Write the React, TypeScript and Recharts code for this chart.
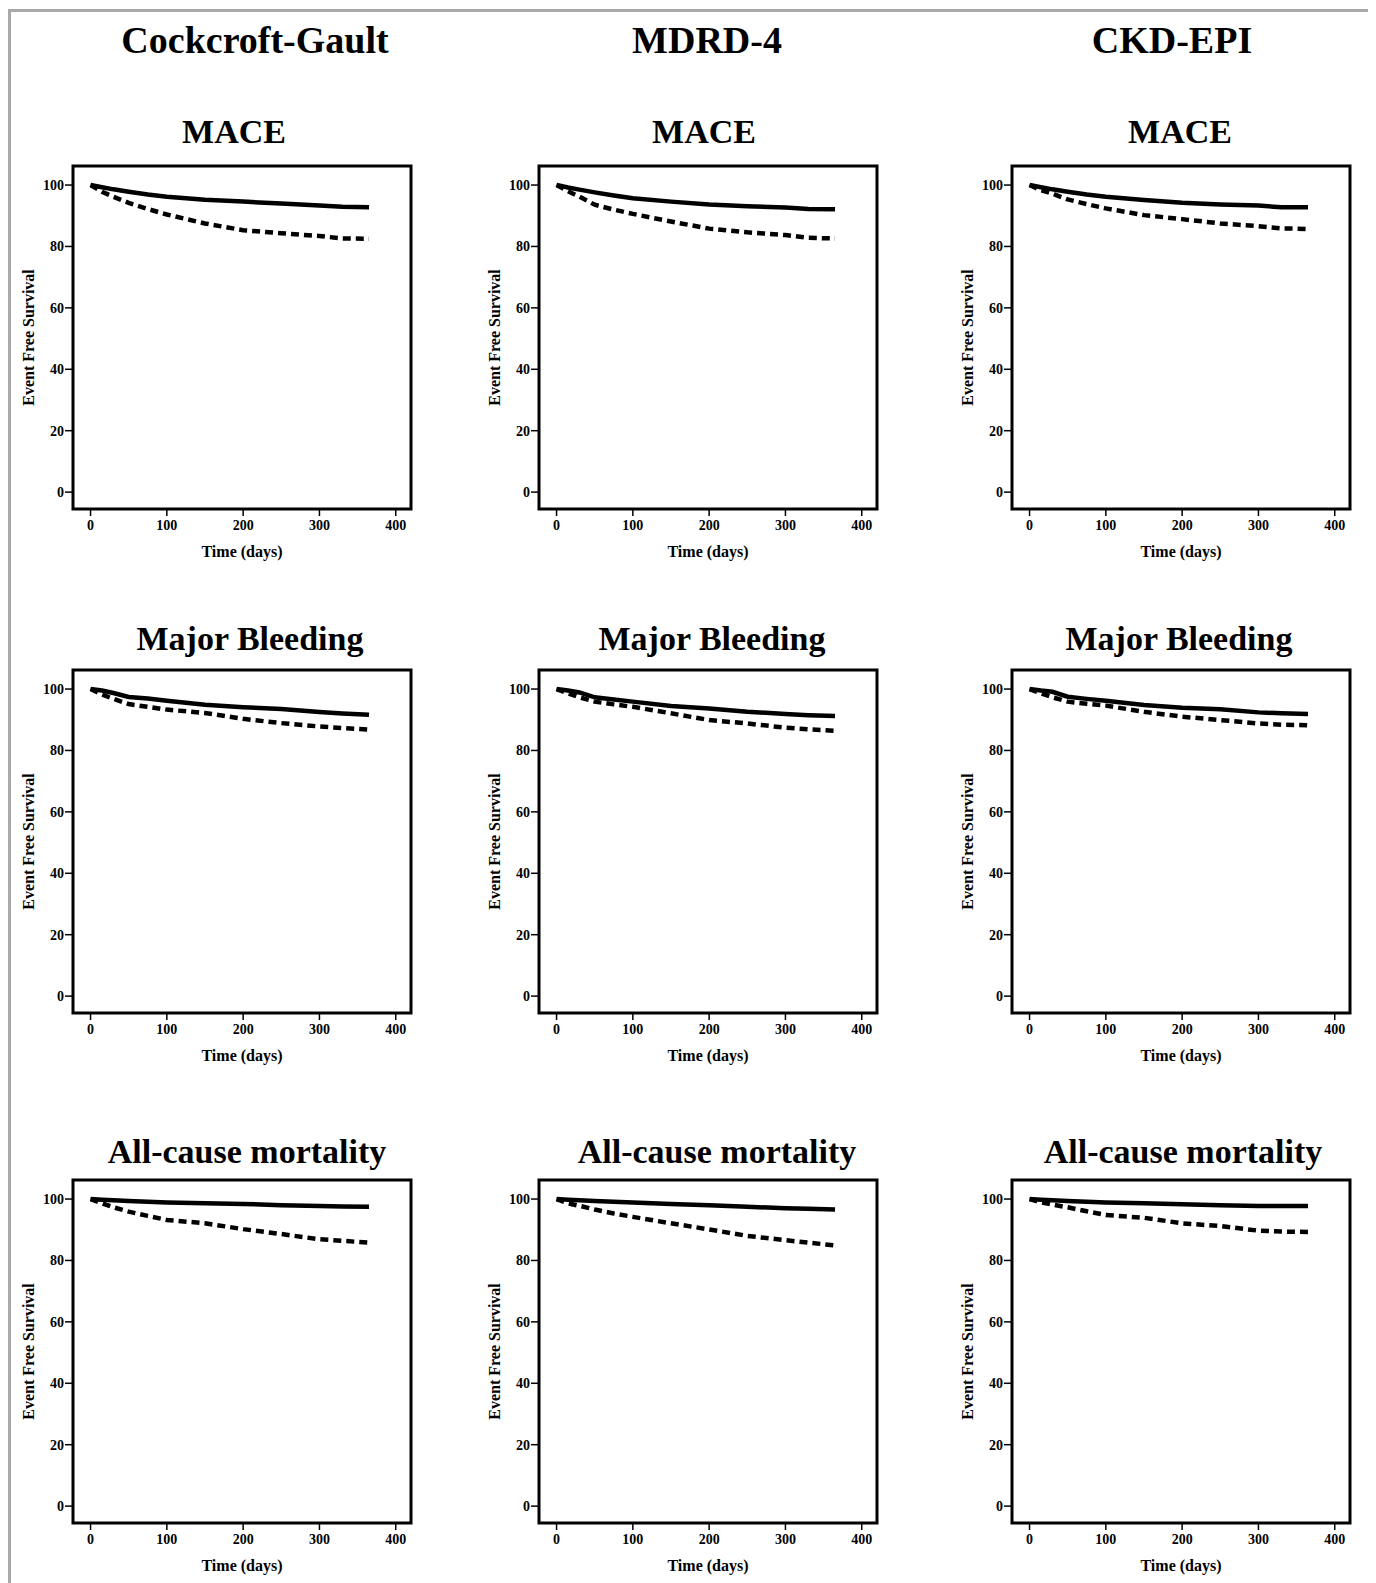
import { LineChart, Line, XAxis, YAxis, ReferenceArea, Label } from "recharts"

// follow-up time points (days)
const days = [0, 15, 30, 50, 75, 100, 150, 200, 250, 300, 330, 365]

const yTicks = [0, 20, 40, 60, 80, 100]
const xTicks = [0, 100, 200, 300, 400]

const equations = ["Cockcroft-Gault", "MDRD-4", "CKD-EPI"]
const outcomes = ["MACE", "Major Bleeding", "All-cause mortality"]

// solid = preserved renal function, dashed = reduced renal function
const cgMaceSolid = [100, 99.3, 98.6, 97.8, 96.9, 96.2, 95.2, 94.6, 94.0, 93.3, 92.9, 92.8]
const cgMaceDashed = [100, 97.8, 96.2, 94.2, 92.2, 90.4, 87.5, 85.3, 84.3, 83.4, 82.6, 82.5]
const mdrdMaceSolid = [100, 99.2, 98.5, 97.6, 96.6, 95.7, 94.6, 93.7, 93.1, 92.7, 92.2, 92.1]
const mdrdMaceDashed = [100, 98.0, 96.2, 93.6, 92.0, 90.6, 88.1, 85.8, 84.6, 83.7, 82.8, 82.6]
const ckdMaceSolid = [100, 99.3, 98.6, 97.8, 96.9, 96.2, 95.1, 94.2, 93.7, 93.3, 92.8, 92.8]
const ckdMaceDashed = [100, 98.3, 97.2, 95.3, 93.8, 92.4, 90.2, 88.9, 87.5, 86.6, 85.9, 85.7]

const cgBleedSolid = [100, 99.5, 98.7, 97.4, 96.9, 96.2, 94.9, 94.1, 93.5, 92.5, 92.0, 91.6]
const cgBleedDashed = [100, 98.2, 96.8, 95.1, 94.2, 93.3, 92.2, 90.3, 88.9, 87.8, 87.3, 86.8]
const mdrdBleedSolid = [100, 99.5, 98.9, 97.3, 96.6, 95.9, 94.5, 93.7, 92.6, 91.9, 91.5, 91.2]
const mdrdBleedDashed = [100, 98.6, 97.3, 95.9, 95.0, 94.2, 92.1, 89.9, 88.8, 87.4, 86.9, 86.4]
const ckdBleedSolid = [100, 99.5, 99.1, 97.5, 96.8, 96.2, 94.8, 93.9, 93.4, 92.4, 92.1, 91.9]
const ckdBleedDashed = [100, 98.6, 97.3, 95.9, 95.2, 94.6, 92.6, 91.0, 89.9, 88.8, 88.4, 88.2]

const cgDeathSolid = [100, 99.8, 99.6, 99.4, 99.1, 98.9, 98.6, 98.4, 98.0, 97.7, 97.6, 97.5]
const cgDeathDashed = [100, 98.6, 97.3, 95.9, 94.5, 93.2, 92.1, 90.2, 88.6, 86.9, 86.4, 85.8]
const mdrdDeathSolid = [100, 99.8, 99.6, 99.4, 99.1, 98.9, 98.4, 98.0, 97.5, 97.0, 96.8, 96.6]
const mdrdDeathDashed = [100, 98.6, 97.8, 96.6, 95.3, 94.2, 92.1, 90.1, 88.0, 86.6, 85.8, 84.9]
const ckdDeathSolid = [100, 99.8, 99.6, 99.4, 99.1, 98.9, 98.6, 98.3, 98.0, 97.7, 97.7, 97.7]
const ckdDeathDashed = [100, 98.9, 98.2, 97.3, 96.0, 94.8, 93.9, 92.1, 91.2, 89.7, 89.4, 89.3]

const series = [
  [[cgMaceSolid, cgMaceDashed], [mdrdMaceSolid, mdrdMaceDashed], [ckdMaceSolid, ckdMaceDashed]],
  [[cgBleedSolid, cgBleedDashed], [mdrdBleedSolid, mdrdBleedDashed], [ckdBleedSolid, ckdBleedDashed]],
  [[cgDeathSolid, cgDeathDashed], [mdrdDeathSolid, mdrdDeathDashed], [ckdDeathSolid, ckdDeathDashed]],
]

// layout (page px)
const boxLeft = [73, 539, 1012]
const boxTop = [166, 670, 1180]
const BOX_W = 338
const BOX_H = 343
const Y_AXIS_W = 90
const X_AXIS_H = 84
const headerX = [255, 707, 1172]
const titleX = [
  [234, 704, 1180],
  [250, 712, 1179],
  [247, 717, 1183],
]
const titleY = [132, 639, 1152]

const X_DOMAIN: [number, number] = [-23, 420]
const Y_DOMAIN: [number, number] = [-5.5, 106.2]

const serif = "'Liberation Serif', 'Times New Roman', serif"
const tickStyle = { fill: "#000", fontSize: 14, fontWeight: 700, fontFamily: serif }
const axisTitleStyle = { fill: "#000", fontSize: 16, fontWeight: 700, fontFamily: serif }

function Panel({ row, col }: { row: number; col: number }) {
  const [solid, dashed] = series[row][col]
  const data = days.map((t, i) => ({ t, solid: solid[i], dashed: dashed[i] }))
  return (
    <div
      style={{
        position: "absolute",
        left: boxLeft[col] - Y_AXIS_W - 8,
        top: boxTop[row] - 5 - 8,
      }}
    >
      <LineChart
        width={Y_AXIS_W + BOX_W + 10}
        height={5 + BOX_H + X_AXIS_H}
        data={data}
        margin={{ top: 5, right: 10, left: 0, bottom: 0 }}
      >
        <XAxis
          dataKey="t"
          type="number"
          domain={X_DOMAIN}
          ticks={xTicks}
          allowDataOverflow
          axisLine={false}
          tickLine={{ stroke: "#000", strokeWidth: 1.5 }}
          tickSize={7}
          tickMargin={4}
          tick={tickStyle}
          height={X_AXIS_H}
        >
          <Label value="Time (days)" position="center" style={axisTitleStyle} />
        </XAxis>
        <YAxis
          type="number"
          domain={Y_DOMAIN}
          ticks={yTicks}
          allowDataOverflow
          axisLine={false}
          tickLine={{ stroke: "#000", strokeWidth: 1.5 }}
          tickSize={8}
          tickMargin={1}
          tick={tickStyle}
          width={Y_AXIS_W}
        >
          <Label value="Event Free Survival" angle={-90} position="center" style={axisTitleStyle} />
        </YAxis>
        <ReferenceArea
          x1={X_DOMAIN[0]}
          x2={X_DOMAIN[1]}
          y1={Y_DOMAIN[0]}
          y2={Y_DOMAIN[1]}
          fill="none"
          stroke="#000"
          strokeWidth={3}
          ifOverflow="visible"
        />
        <Line
          type="linear"
          dataKey="dashed"
          stroke="#000"
          strokeWidth={4.5}
          strokeDasharray="8 5"
          dot={false}
          isAnimationActive={false}
        />
        <Line
          type="linear"
          dataKey="solid"
          stroke="#000"
          strokeWidth={4.5}
          dot={false}
          isAnimationActive={false}
        />
      </LineChart>
    </div>
  )
}

const headStyle = {
  position: "absolute" as const,
  transform: "translate(-50%, -50%)",
  fontFamily: serif,
  fontWeight: 700,
  lineHeight: 1,
  whiteSpace: "nowrap" as const,
  color: "#000",
}

export default function App() {
  return (
    <div style={{ position: "relative", width: 1362, height: 1575, background: "#fff" }}>
      <div
        style={{
          position: "absolute",
          left: 0,
          top: 1,
          width: 1363,
          height: 1600,
          border: "3px solid #a9a9a9",
          boxSizing: "border-box",
        }}
      />
      {equations.map((eq, c) => (
        <div key={eq} style={{ ...headStyle, left: headerX[c] - 8, top: 40 - 8, fontSize: 38 }}>
          {eq}
        </div>
      ))}
      {outcomes.map((oc, r) =>
        equations.map((eq, c) => (
          <div key={oc + eq} style={{ ...headStyle, left: titleX[r][c] - 8, top: titleY[r] - 8, fontSize: 34 }}>
            {oc}
          </div>
        ))
      )}
      {outcomes.map((oc, r) => equations.map((eq, c) => <Panel key={oc + eq + "p"} row={r} col={c} />))}
    </div>
  )
}
